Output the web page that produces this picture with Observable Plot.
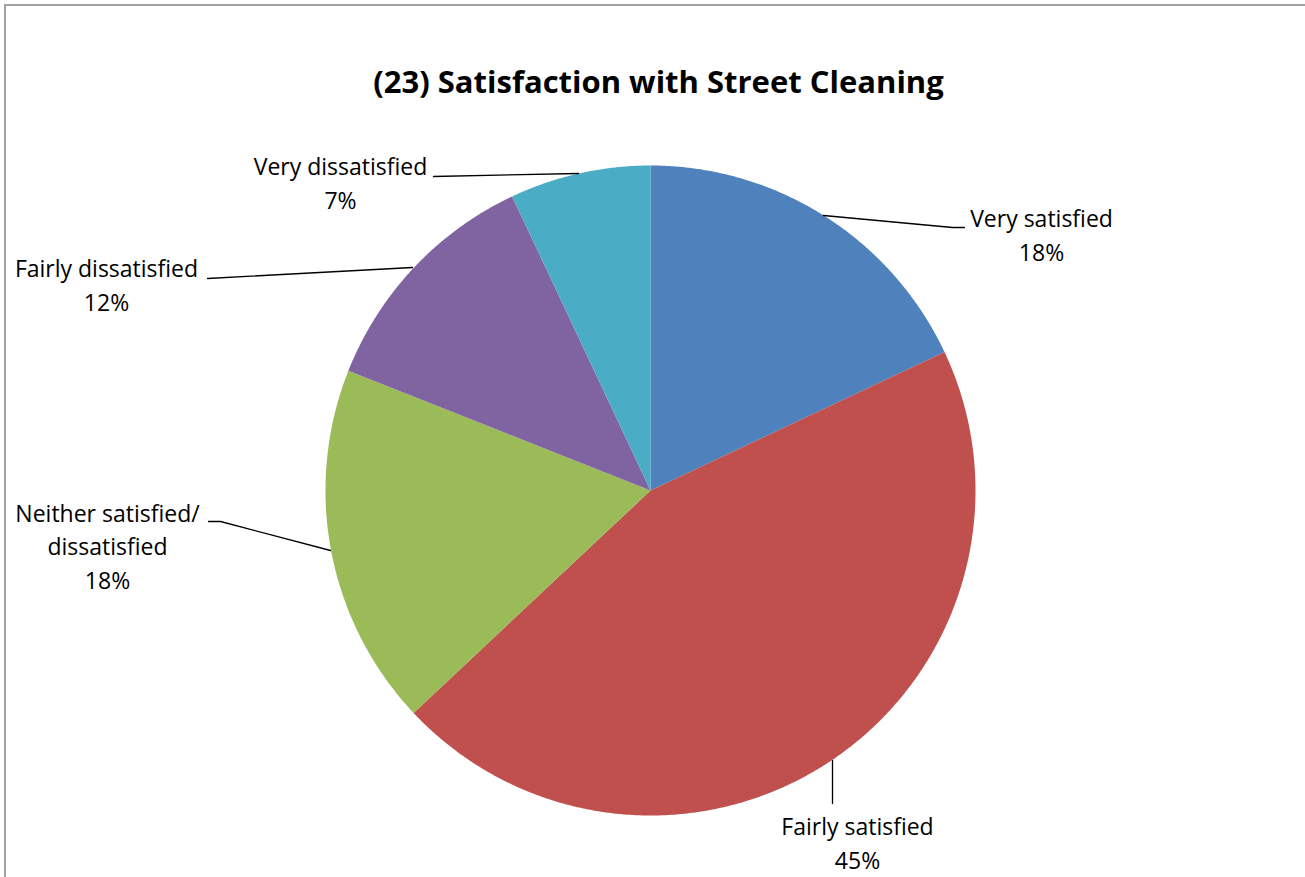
<!DOCTYPE html>
<html><head><meta charset="utf-8">
<script src="https://cdn.jsdelivr.net/npm/d3@7"></script>
<script src="https://cdn.jsdelivr.net/npm/@observablehq/plot@0.6"></script>
<style>
html,body{margin:0;padding:0;background:#fff;overflow:hidden;}
#wrap{position:relative;width:1305px;height:877px;overflow:hidden;}
#border{position:absolute;left:4px;top:4px;width:1400px;height:1000px;border:2px solid #a0a0a0;}
#chart{position:absolute;left:0;top:0;}
</style></head><body>
<div id="wrap"><div id="border"></div><div id="chart"></div></div>
<script>
// ---- data ----
const categories = ["Very satisfied", "Fairly satisfied", "Neither satisfied/\ndissatisfied", "Fairly dissatisfied", "Very dissatisfied"];
const values = [18, 45, 18, 12, 7];
const colors = ["#4F81BD", "#C0504D", "#9BBB59", "#8064A2", "#4BACC6"];
const title = "(23) Satisfaction with Street Cleaning";

// ---- layout (pixels) ----
const W = 1305, H = 877;
const cx = 650, cy = 490, R = 325;
const labelPos = [[1041, 233], [857, 841], [107, 544], [106, 283], [340, 181]];
const leaders = [
  [[823, 215], [952, 227], [964, 227]],
  [[832, 760], [832, 803]],
  [[330, 550], [220, 521], [208, 521]],
  [[412, 267], [207, 278]],
  [[578, 173], [433, 176]]
];
const font = "'Open Sans', sans-serif";

// ---- slices via d3.pie ----
const arcs = d3.pie().sort(null).value(d => d)(values);
const slicePts = [];
arcs.forEach((a, i) => {
  slicePts.push({cat: categories[i], x: cx, y: cy});
  const n = Math.max(4, Math.ceil((a.endAngle - a.startAngle) / 0.005));
  for (let k = 0; k <= n; k++) {
    const t = a.startAngle + (a.endAngle - a.startAngle) * k / n;
    slicePts.push({cat: categories[i], x: cx + R * Math.sin(t), y: cy - R * Math.cos(t)});
  }
});

const labels = categories.map((c, i) => ({text: `${c}\n${values[i]}%`, x: labelPos[i][0], y: labelPos[i][1]}));
const leaderPts = leaders.flatMap((pts, i) => pts.map(p => ({id: i, x: p[0], y: p[1]})));

const chart = Plot.plot({
  width: W, height: H, margin: 0,
  x: {domain: [0, W], range: [0, W], axis: null},
  y: {domain: [0, H], range: [0, H], axis: null},
  color: {domain: categories, range: colors},
  style: {fontFamily: font, background: "transparent"},
  marks: [
    Plot.line(slicePts, {x: "x", y: "y", z: "cat", fill: "cat", stroke: null, curve: "linear-closed"}),
    Plot.line(leaderPts, {x: "x", y: "y", z: "id", stroke: "#000", strokeWidth: 1.3}),
    Plot.text(labels, {x: "x", y: "y", text: "text", fontSize: 23, lineHeight: 1.46, textAnchor: "middle", fill: "#000"}),
    Plot.text([title], {x: () => 658, y: () => 83, text: d => d, fontSize: 31, fontWeight: "bold", fill: "#000"})
  ]
});
document.getElementById("chart").appendChild(chart);
</script>
</body></html>
